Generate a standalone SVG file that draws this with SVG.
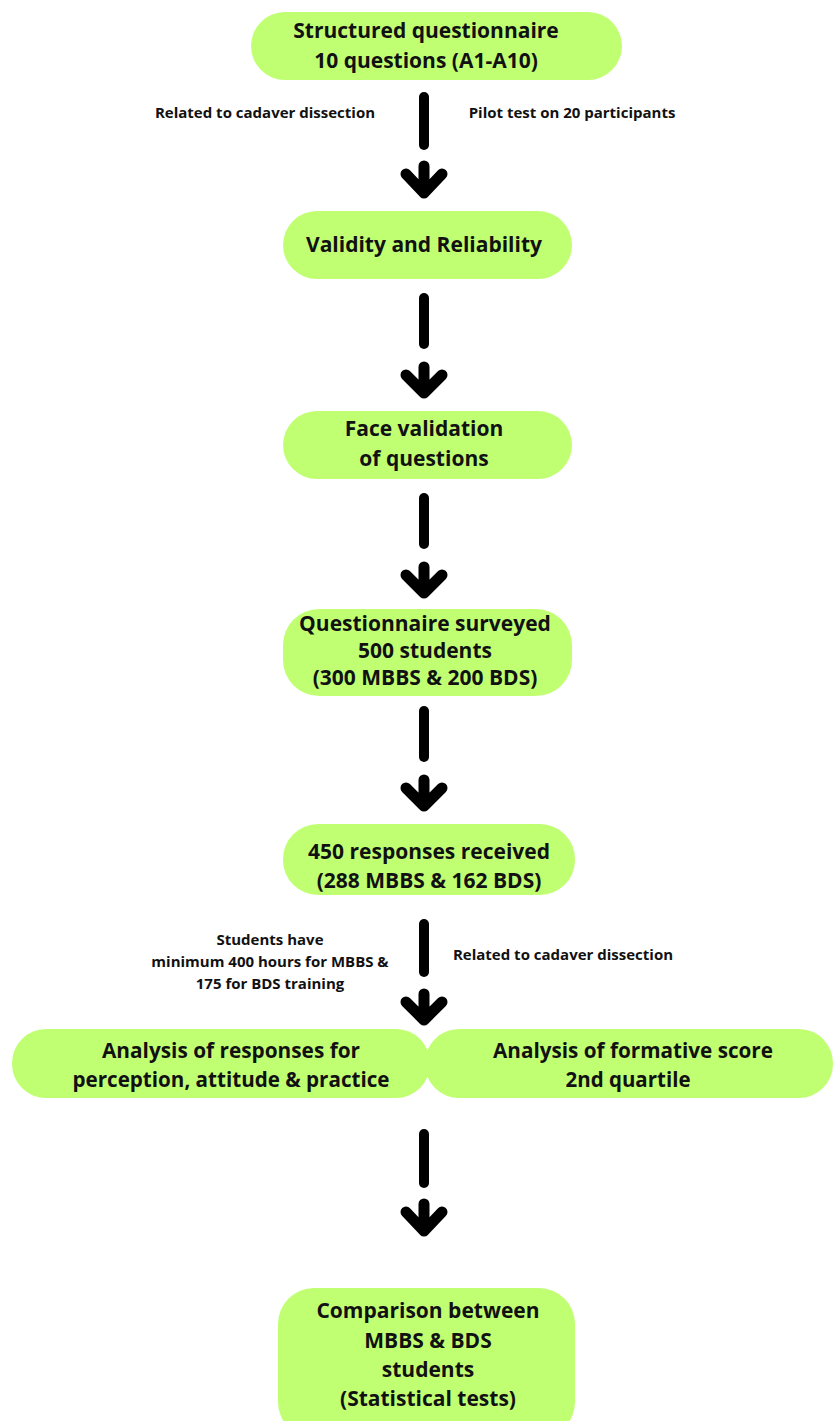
<svg xmlns="http://www.w3.org/2000/svg" width="834" height="1421" viewBox="0 0 834 1421">
  <style>
    .node { fill: #c1ff72; }
    .t { font-family: "Open Sans", "Liberation Sans", sans-serif; font-weight: 700; font-size: 21px; fill: #111; text-anchor: middle; }
    .tc { font-family: "Open Sans", "Liberation Sans", sans-serif; font-weight: 700; font-size: 21px; fill: #111; text-anchor: middle; }
    .lbl { font-family: "Open Sans", "Liberation Sans", sans-serif; font-weight: 700; font-size: 15px; fill: #111; text-anchor: middle; }
    .shaft { stroke: #000; stroke-width: 10; stroke-linecap: round; fill: none; }
    .head { stroke: #000; stroke-width: 11; stroke-linecap: round; stroke-linejoin: round; fill: none; }
  </style>
  <rect width="834" height="1421" fill="#ffffff"/>

  <g id="connectors">
    <g id="arrow1">
      <line class="shaft" x1="424" y1="97" x2="424" y2="145"/>
      <path class="head" d="M406,174 L424,193 L442,174 M424,166 L424,193"/>
    </g>
    <g id="arrow2">
      <line class="shaft" x1="424" y1="298" x2="424" y2="344"/>
      <path class="head" d="M406,375 L424,393 L442,375 M424,367 L424,393"/>
    </g>
    <g id="arrow3">
      <line class="shaft" x1="424" y1="498" x2="424" y2="544"/>
      <path class="head" d="M406,575 L424,593 L442,575 M424,567 L424,593"/>
    </g>
    <g id="arrow4">
      <line class="shaft" x1="424" y1="711" x2="424" y2="757"/>
      <path class="head" d="M406,788 L424,806 L442,788 M424,780 L424,806"/>
    </g>
    <g id="arrow5">
      <line class="shaft" x1="424" y1="924" x2="424" y2="972"/>
      <path class="head" d="M406,1002 L424,1020 L442,1002 M424,994 L424,1020"/>
    </g>
    <g id="arrow6">
      <line class="shaft" x1="424" y1="1134" x2="424" y2="1183"/>
      <path class="head" d="M406,1212 L424,1231 L442,1212 M424,1204 L424,1231"/>
    </g>
    <text class="lbl" x="265" y="118" font-size="16">Related to cadaver dissection</text>
    <text class="lbl" x="572" y="118" font-size="16">Pilot test on 20 participants</text>
    <text class="lbl" x="270" y="945">Students have</text>
    <text class="lbl" x="270" y="967">minimum 400 hours for MBBS &amp;</text>
    <text class="lbl" x="270" y="989">175 for BDS training</text>
    <text class="lbl" x="563" y="960">Related to cadaver dissection</text>
  </g>

  <g id="n1">
    <rect class="node" x="251" y="12" width="371" height="68" rx="34"/>
    <text class="t" x="426" y="38" font-size="22">Structured questionnaire</text>
    <text class="t" x="426" y="68" font-size="22">10 questions (A1-A10)</text>
  </g>

  <g id="n2">
    <rect class="node" x="283" y="211" width="289" height="68" rx="34"/>
    <text class="t" x="424" y="252">Validity and Reliability</text>
  </g>

  <g id="n3">
    <rect class="node" x="283" y="411" width="289" height="68" rx="34"/>
    <text class="t" x="424" y="436">Face validation</text>
    <text class="t" x="424" y="466">of questions</text>
  </g>

  <g id="n4">
    <rect class="node" x="283" y="609" width="289" height="87" rx="36"/>
    <text class="t" x="425" y="631" font-size="20">Questionnaire surveyed</text>
    <text class="t" x="425" y="658" font-size="20">500 students</text>
    <text class="t" x="425" y="685" font-size="20">(300 MBBS &amp; 200 BDS)</text>
  </g>

  <g id="n5">
    <rect class="node" x="283" y="824" width="292" height="71" rx="35"/>
    <text class="t" x="429" y="859" font-size="20.5">450 responses received</text>
    <text class="t" x="429" y="888" font-size="20.5">(288 MBBS &amp; 162 BDS)</text>
  </g>

  <g id="n6">
    <rect class="node" x="12" y="1029" width="418" height="69" rx="34"/>
    <text class="tc" x="231" y="1058" textLength="258" lengthAdjust="spacingAndGlyphs">Analysis of responses for</text>
    <text class="tc" x="231" y="1087" textLength="317" lengthAdjust="spacingAndGlyphs">perception, attitude &amp; practice</text>
  </g>

  <g id="n7">
    <rect class="node" x="425" y="1029" width="408" height="69" rx="34"/>
    <text class="tc" x="633" y="1058" textLength="280" lengthAdjust="spacingAndGlyphs">Analysis of formative score</text>
    <text class="tc" x="628" y="1087" textLength="125" lengthAdjust="spacingAndGlyphs">2nd quartile</text>
  </g>

  <g id="n8">
    <rect class="node" x="278" y="1288" width="297" height="150" rx="36"/>
    <text class="t" x="428" y="1318" font-size="19.5">Comparison between</text>
    <text class="t" x="428" y="1348" font-size="19.5">MBBS &amp; BDS</text>
    <text class="t" x="428" y="1377" font-size="19.5">students</text>
    <text class="t" x="428" y="1406" font-size="19.5">(Statistical tests)</text>
  </g>
</svg>
